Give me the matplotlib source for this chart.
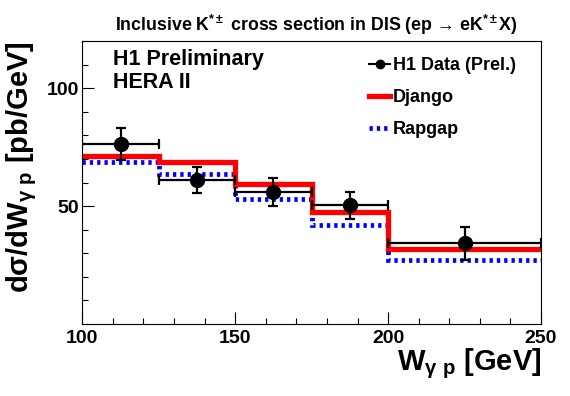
import matplotlib
matplotlib.use("Agg")
import matplotlib.pyplot as plt
from matplotlib.lines import Line2D
from matplotlib.ticker import FixedLocator, MultipleLocator

plt.rcParams["font.family"] = ["Liberation Sans", "DejaVu Sans"]
plt.rcParams["font.weight"] = "bold"
plt.rcParams["mathtext.fontset"] = "custom"
plt.rcParams["mathtext.rm"] = "Liberation Sans:bold"
plt.rcParams["mathtext.it"] = "Liberation Sans:bold"
plt.rcParams["mathtext.bf"] = "Liberation Sans:bold"

# W_gamma-p bins and cross sections (pb/GeV)
edges = [100, 125, 150, 175, 200, 250]
django = [71.3, 68.6, 59.5, 47.5, 31.8]
rapgap = [68.9, 63.6, 53.0, 42.1, 27.1]
h1_x = [112.5, 137.5, 162.5, 187.5, 225.0]
h1_xerr = [12.5, 12.5, 12.5, 12.5, 25.0]
h1_y = [76.4, 61.2, 56.0, 50.3, 34.2]
h1_yerr = [6.9, 5.5, 6.0, 5.8, 7.0]

W, H = 570, 396


def fx(px):
    return px / W


def fy(py):
    return 1 - py / H


fig = plt.figure(figsize=(W / 100, H / 100), dpi=100)
ax = fig.add_axes([fx(82.3), fy(324), (541 - 82.3) / W, (324 - 41) / H])

ax.stairs(rapgap, edges, baseline=None, color="#0000ff", lw=3.4,
          linestyle=(0, (0.7, 0.85)))
ax.stairs(django, edges, baseline=None, color="#ff0000", lw=3.8)
ax.errorbar(h1_x, h1_y, xerr=h1_xerr, yerr=h1_yerr, fmt="o", color="black",
            ms=10, lw=1.6, capsize=3.4, capthick=1.6, zorder=5)

ax.set_xlim(100, 250)
ax.set_ylim(0, 120)
ax.xaxis.set_major_locator(MultipleLocator(50))
ax.xaxis.set_minor_locator(MultipleLocator(10))
ax.yaxis.set_major_locator(FixedLocator([50, 100]))
ax.yaxis.set_minor_locator(MultipleLocator(10))
ax.tick_params(which="both", direction="in", top=False, right=False,
               width=0.8, labelsize=14)
ax.tick_params(which="major", length=8.5)
ax.tick_params(which="minor", length=4.5)
ax.tick_params(axis="x", which="major", pad=4)
ax.tick_params(axis="y", which="major", pad=2.5)
for s in ax.spines.values():
    s.set_linewidth(0.8)

fig.text(fx(316.5), fy(31.3), "Inclusive K$^{*\\pm}$ cross section in DIS (ep → eK$^{*\\pm}$X)",
         ha="center", va="baseline", fontsize=12.8)
fig.text(fx(113), fy(65), "H1 Preliminary", ha="left", va="baseline", fontsize=15.5)
fig.text(fx(113), fy(87.7), "HERA II", ha="left", va="baseline", fontsize=15.5)

fig.text(fx(541), fy(370), r"W$_{\gamma\ \mathrm{p}}$ [GeV]", ha="right",
         va="baseline", fontsize=21)
fig.text(fx(22), fy(41), r"d$\sigma$/dW$_{\gamma\ \mathrm{p}}$ [pb/GeV]", ha="center",
         va="top", rotation=90, fontsize=21)

handles = [
    Line2D([], [], color="black", marker="o", ms=6, lw=1.5),
    Line2D([], [], color="#ff0000", lw=3.8),
    Line2D([], [], color="#0000ff", lw=3.4, linestyle=(0, (0.7, 0.85))),
]
labels = ["H1 Data (Prel.)", "Django", "Rapgap"]
ax.legend(handles, labels, loc="upper left", bbox_to_anchor=(fx(369), fy(57.5)),
          bbox_transform=fig.transFigure, frameon=False, fontsize=13,
          handlelength=1.17, handletextpad=0.17, labelspacing=0.82,
          borderpad=0, borderaxespad=0)

fig.savefig("out.png", dpi=100)
